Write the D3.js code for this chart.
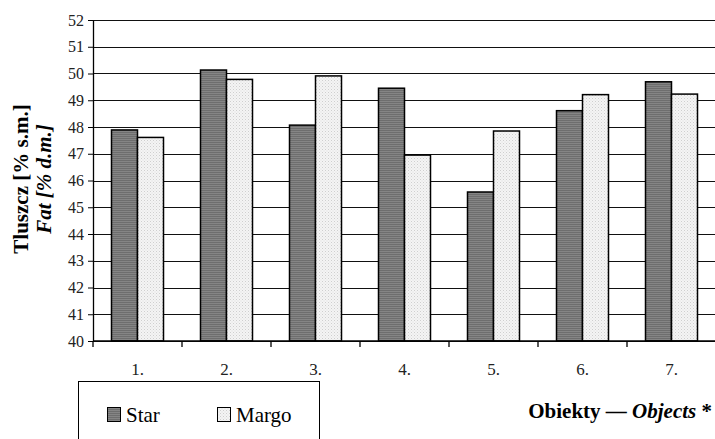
<!DOCTYPE html>
<html>
<head>
<meta charset="utf-8">
<script src="https://cdn.jsdelivr.net/npm/d3@7"></script>
<style>
  body { margin: 0; background: #fff; }
  svg text { font-family: "Liberation Serif", "Times New Roman", Times, "DejaVu Serif", serif !important; }
</style>
</head>
<body>
<svg id="chart" width="715" height="439"></svg>
<script>
// data
var categories = ["1.", "2.", "3.", "4.", "5.", "6.", "7."];
var seriesNames = ["Star", "Margo"];
var starValues = [47.89, 50.13, 48.07, 49.45, 45.57, 48.61, 49.69];
var margoValues = [47.61, 49.78, 49.91, 46.95, 47.85, 49.21, 49.23];
var yTicks = [40, 41, 42, 43, 44, 45, 46, 47, 48, 49, 50, 51, 52];

var margin = { top: 20, left: 93 };
var plotW = 623, plotH = 321;
var serif = "'Liberation Serif', 'Times New Roman', serif";

var svg = d3.select("#chart").attr("font-family", serif);

// fill textures for the two series
var defs = svg.append("defs");
var pStar = defs.append("pattern").attr("id", "pStar")
  .attr("patternUnits", "userSpaceOnUse").attr("width", 4).attr("height", 2);
pStar.append("rect").attr("width", 4).attr("height", 2).attr("fill", "#858585");
pStar.append("rect").attr("width", 4).attr("height", 1).attr("fill", "#6e6e6e");

var pMargo = defs.append("pattern").attr("id", "pMargo")
  .attr("patternUnits", "userSpaceOnUse").attr("width", 3).attr("height", 3);
pMargo.append("rect").attr("width", 3).attr("height", 3).attr("fill", "#f4f4f4");
pMargo.append("rect").attr("width", 1).attr("height", 1).attr("fill", "#cfcfcf");
pMargo.append("rect").attr("x", 1.5).attr("y", 1.5).attr("width", 1).attr("height", 1).attr("fill", "#dcdcdc");

var g = svg.append("g").attr("transform", "translate(" + margin.left + "," + margin.top + ")");

var x = d3.scaleBand().domain(categories).range([0, plotW]).padding(0);
var xs = d3.scaleBand().domain(seriesNames).range([18.5, 70.5]);
var y = d3.scaleLinear().domain([40, 52]).range([plotH, 0]);

// horizontal grid
g.append("g")
  .selectAll("line")
  .data(yTicks)
  .enter()
  .append("line")
  .attr("x1", 0).attr("x2", plotW)
  .attr("y1", d => Math.round(y(d)) + 0.5).attr("y2", d => Math.round(y(d)) + 0.5)
  .attr("stroke", "#111").attr("stroke-width", 1.1);

// bars
var rows = categories.map(function(c, i) {
  return { cat: c, vals: [{ s: "Star", v: starValues[i] }, { s: "Margo", v: margoValues[i] }] };
});

var grp = g.selectAll(".grp")
  .data(rows)
  .enter()
  .append("g")
  .attr("transform", d => "translate(" + x(d.cat) + ",0)");

grp.selectAll("rect")
  .data(d => d.vals)
  .enter()
  .append("rect")
  .attr("x", d => xs(d.s))
  .attr("width", xs.bandwidth())
  .attr("y", d => y(d.v))
  .attr("height", d => plotH - y(d.v))
  .attr("fill", d => d.s == "Star" ? "url(#pStar)" : "url(#pMargo)")
  .attr("stroke", "#000")
  .attr("stroke-width", 1.5);

// y axis
var yAxis = g.append("g")
  .call(d3.axisLeft(y).tickValues(yTicks).tickSize(5).tickSizeOuter(0).tickPadding(4));
yAxis.attr("font-family", serif).attr("font-size", 16);
yAxis.select(".domain").attr("stroke", "#000").attr("stroke-width", 1.3);
yAxis.selectAll("line").attr("stroke", "#000");
yAxis.selectAll("text").attr("font-size", 16).attr("fill", "#222");

// x axis: ticks sit between the categories
var xAxis = g.append("g").attr("transform", "translate(0," + plotH + ")");
xAxis.append("line").attr("x1", 0).attr("x2", plotW).attr("y1", 0).attr("y2", 0)
  .attr("stroke", "#000").attr("stroke-width", 1.3);
xAxis.selectAll(".xt")
  .data(categories.concat(["end"]))
  .enter()
  .append("line")
  .attr("x1", (d, i) => i * x.step()).attr("x2", (d, i) => i * x.step())
  .attr("y1", 0).attr("y2", 6)
  .attr("stroke", "#000").attr("stroke-width", 1.3);
xAxis.selectAll(".xl")
  .data(categories)
  .enter()
  .append("text")
  .attr("x", d => x(d) + x.bandwidth() / 2)
  .attr("y", 34)
  .attr("text-anchor", "middle")
  .attr("font-size", 17)
  .attr("fill", "#222")
  .text(d => d);

// y axis title (two lines)
var yt = svg.append("text")
  .attr("transform", "translate(28,179) rotate(-90)")
  .attr("text-anchor", "middle")
  .attr("font-size", 21)
  .attr("font-weight", "bold");
yt.append("tspan").attr("x", 0).attr("y", 0).text("Tluszcz [% s.m.]");
yt.append("tspan").attr("x", 0).attr("y", 23).attr("font-style", "italic").text("Fat [% d.m.]");

// x axis title
var xt = svg.append("text")
  .attr("x", 712).attr("y", 418)
  .attr("text-anchor", "end")
  .attr("font-size", 21)
  .attr("font-weight", "bold");
xt.append("tspan").text("Obiekty \u2014 ");
xt.append("tspan").attr("font-style", "italic").text("Objects");
xt.append("tspan").text(" *");

// legend
var legend = svg.append("g");
legend.append("rect")
  .attr("x", 78.5).attr("y", 381.5).attr("width", 241).attr("height", 80)
  .attr("fill", "#fff").attr("stroke", "#000").attr("stroke-width", 1);

var legX = [107, 217];
var li = legend.selectAll(".li")
  .data(seriesNames)
  .enter()
  .append("g")
  .attr("transform", (d, i) => "translate(" + legX[i] + ",407)");
li.append("rect")
  .attr("x", 0.5).attr("y", 0.5)
  .attr("width", 13).attr("height", 14)
  .attr("fill", d => d == "Star" ? "url(#pStar)" : "url(#pMargo)")
  .attr("stroke", "#000").attr("stroke-width", 1);
li.append("text")
  .attr("x", 19).attr("y", 15)
  .attr("font-size", 21)
  .text(d => d);
</script>
</body>
</html>
